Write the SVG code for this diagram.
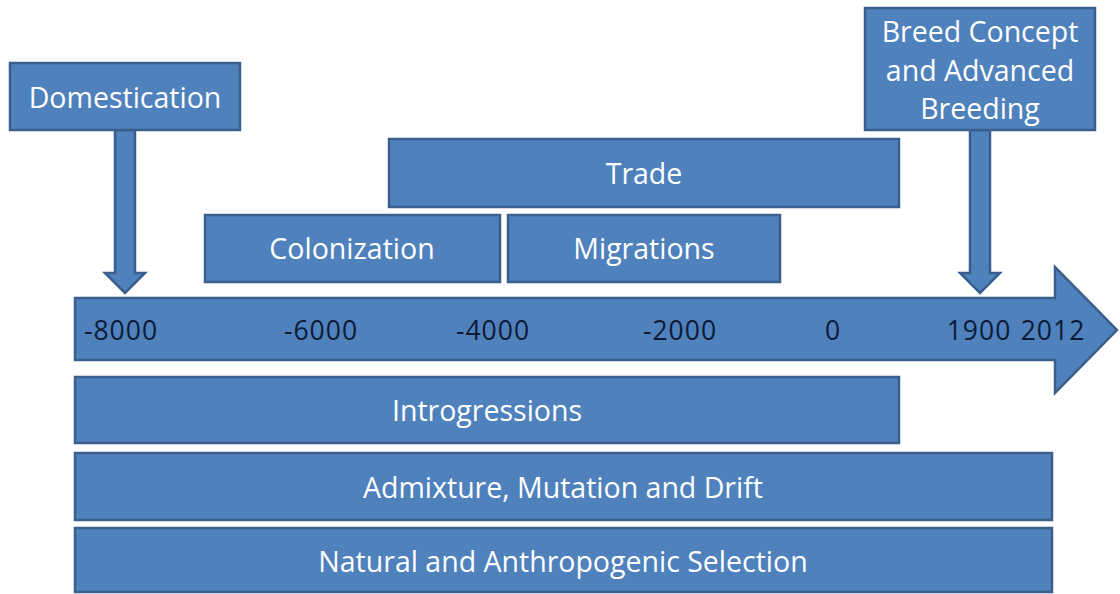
<svg xmlns="http://www.w3.org/2000/svg" width="1120" height="594" viewBox="0 0 1120 594">
  <style>
    .box { fill: #4f81bd; stroke: #3a5f8c; stroke-width: 2.5; }
    .lbl { font-family: "Open Sans", "Liberation Sans", sans-serif; font-size: 28.5px; fill: #ffffff; text-anchor: middle; dominant-baseline: central; }
    .year { font-family: "Open Sans", "Liberation Sans", sans-serif; font-size: 26.5px; letter-spacing: 1px; fill: #0d1b36; text-anchor: middle; dominant-baseline: central; }
  </style>
  <rect width="1120" height="594" fill="#ffffff"/>

  <!-- timeline arrow -->
  <g id="timeline">
    <path class="box" d="M75,298 H1055 V267 L1117,330 L1055,393 V360 H75 Z"/>
    <text class="year" x="121" y="330">-8000</text>
    <text class="year" x="321" y="330">-6000</text>
    <text class="year" x="493" y="330">-4000</text>
    <text class="year" x="680" y="330">-2000</text>
    <text class="year" x="833" y="330">0</text>
    <text class="year" x="979" y="330">1900</text>
    <text class="year" x="1053" y="330">2012</text>
  </g>

  <!-- event markers pointing at the timeline -->
  <g id="connectors">
    <path class="box" d="M115,130 V273 H105 L125,293 L145,273 H135 V130 Z"/>
    <path class="box" d="M970,130 V273 H960 L980,293 L1000,273 H990 V130 Z"/>
  </g>

  <g id="domestication">
    <rect class="box" x="10" y="63" width="230" height="67"/>
    <text class="lbl" x="125" y="97">Domestication</text>
  </g>

  <g id="breed-concept">
    <rect class="box" x="865" y="8" width="230" height="122"/>
    <text class="lbl" x="980" y="31">Breed Concept</text>
    <text class="lbl" x="980" y="70">and Advanced</text>
    <text class="lbl" x="980" y="108">Breeding</text>
  </g>

  <g id="trade">
    <rect class="box" x="389" y="139" width="510" height="68"/>
    <text class="lbl" x="644" y="173">Trade</text>
  </g>

  <g id="colonization">
    <rect class="box" x="205" y="215" width="295" height="67"/>
    <text class="lbl" x="352" y="248">Colonization</text>
  </g>

  <g id="migrations">
    <rect class="box" x="508" y="215" width="272" height="67"/>
    <text class="lbl" x="644" y="248">Migrations</text>
  </g>

  <g id="introgressions">
    <rect class="box" x="75" y="377" width="824" height="66"/>
    <text class="lbl" x="487" y="410">Introgressions</text>
  </g>

  <g id="admixture">
    <rect class="box" x="75" y="453" width="977" height="67"/>
    <text class="lbl" x="563" y="487">Admixture, Mutation and Drift</text>
  </g>

  <g id="selection">
    <rect class="box" x="75" y="528" width="977" height="64"/>
    <text class="lbl" x="563" y="561">Natural and Anthropogenic Selection</text>
  </g>
</svg>
